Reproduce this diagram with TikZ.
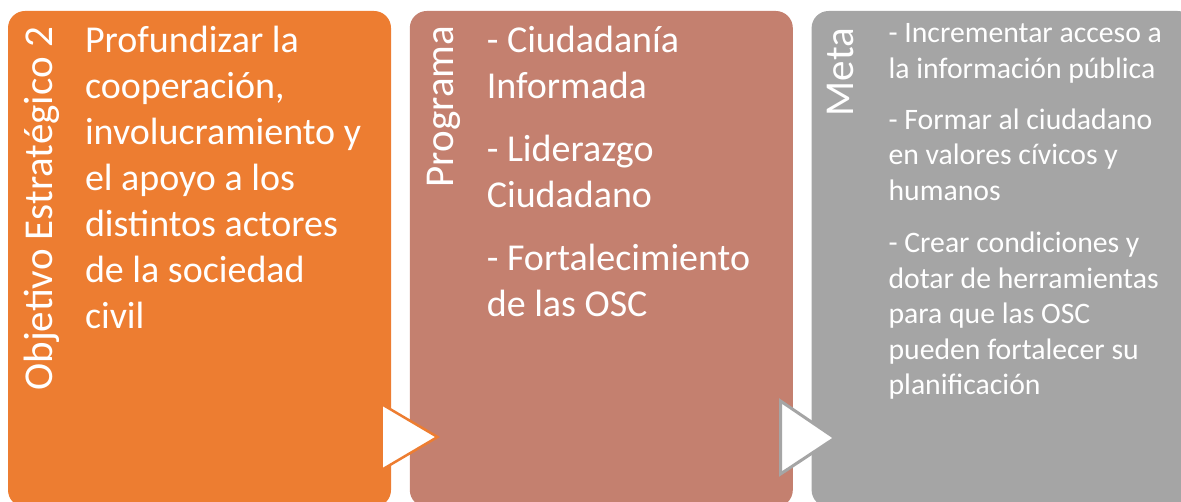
\documentclass[tikz,border=0pt]{standalone}
\usepackage{fontspec}
\setmainfont{Carlito}
\usetikzlibrary{positioning,calc}
\definecolor{StageOrange}{HTML}{ED7D31}
\definecolor{StageRose}{HTML}{C4806F}
\definecolor{StageGrey}{HTML}{A5A5A5}

\begin{document}
\begin{tikzpicture}[x=0.5pt,y=0.5pt,
  stage/.style={minimum width=191.5pt,minimum height=248pt,rounded corners=8.5pt,inner sep=0pt},
  sidelabel/.style={rotate=90,anchor=base east,inner sep=0pt,text=white,font=\fontsize{20.5}{24}\selectfont},
  bigtext/.style={anchor=north west,inner sep=0pt,align=left,text=white,font=\fontsize{19}{23}\selectfont},
  smalltext/.style={anchor=north west,inner sep=0pt,align=left,text=white,font=\fontsize{14.85}{17.75}\selectfont},
  chevron/.style={fill=white,line width=1.25pt}]
\useasboundingbox (0,0) rectangle (1181,502);
\clip (0,0) rectangle (1181,502);
\node[stage,fill=StageOrange] (obj) at (199.5,243) {};
\node[stage,fill=StageRose,right=9pt of obj] (prog) {};
\node[stage,fill=StageGrey,right=9pt of prog] (meta) {};
\node[sidelabel] (objlabel) at ($(obj.north west)+(45,-16)$) {Objetivo Estratégico 2};
\node[sidelabel] (proglabel) at ($(prog.north west)+(44,-15)$) {Programa};
\node[sidelabel] (metalabel) at ($(meta.north west)+(42,-17)$) {Meta};
\node[bigtext] (objtext) at ($(obj.north west)+(77,-9.8)$) {\strut Profundizar la\\cooperación,\\involucramiento y\\el apoyo a los\\distintos actores\\de la sociedad\\civil};
\node[bigtext] (progtext) at ($(prog.north west)+(77,-9.8)$) {\strut - Ciudadanía\\Informada\\[8.3pt]- Liderazgo\\Ciudadano\\[8.3pt]- Fortalecimiento\\de las OSC};
\node[smalltext] (metatext) at ($(meta.north west)+(77,-7.15)$) {\strut - Incrementar acceso a\\la información pública\\[7.75pt]- Formar al ciudadano\\en valores cívicos y\\humanos\\[8.5pt]- Crear condiciones y\\dotar de herramientas\\para que las OSC\\pueden fortalecer su\\planificación};
\draw[chevron,draw=StageOrange] (381.5,98) -- (437.5,65) -- (381.5,32) -- cycle;
\draw[chevron,draw=StageGrey,line width=1.5pt] (780.5,101) -- (835,64) -- (780.5,28) -- cycle;
\end{tikzpicture}
\end{document}
